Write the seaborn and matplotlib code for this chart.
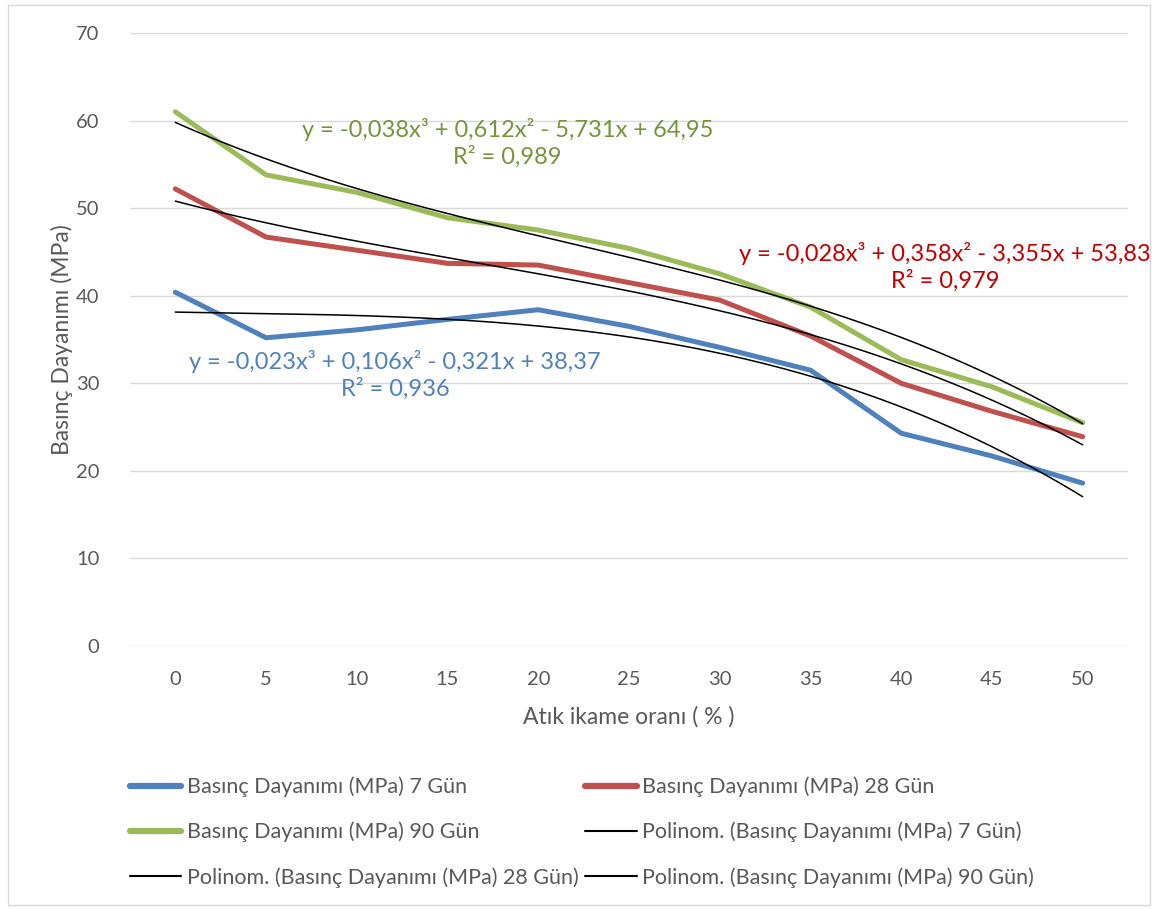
import numpy as np
import pandas as pd
import matplotlib
matplotlib.use("Agg")
import matplotlib.pyplot as plt
from matplotlib.lines import Line2D
from matplotlib.patches import Rectangle
import seaborn as sns

# Replacement ratio categories (%)
ratios = [0, 5, 10, 15, 20, 25, 30, 35, 40, 45, 50]

# Compressive strength (MPa)
gun7 = [40.4, 35.2, 36.1, 37.3, 38.4, 36.5, 34.1, 31.5, 24.3, 21.7, 18.6]
gun28 = [52.2, 46.7, 45.2, 43.7, 43.5, 41.5, 39.5, 35.4, 30.0, 26.8, 23.9]
gun90 = [61.0, 53.8, 51.8, 48.9, 47.5, 45.4, 42.5, 38.7, 32.7, 29.6, 25.5]

# Cubic trendline coefficients (x = category number 1..11), highest power first
poly7 = [-0.023, 0.106, -0.321, 38.37]
poly28 = [-0.028, 0.358, -3.355, 53.83]
poly90 = [-0.038, 0.612, -5.731, 64.95]
r2_7, r2_28, r2_90 = "0,936", "0,979", "0,989"

series_names = ["Basınç Dayanımı (MPa) 7 Gün",
                "Basınç Dayanımı (MPa) 28 Gün",
                "Basınç Dayanımı (MPa) 90 Gün"]
colors = ["#4F81BD", "#C0504D", "#9BBB59"]
text_colors = ["#4F81BD", "#C00000", "#77933C"]

sns.set_theme(style="white")
plt.rcParams["font.family"] = ["Lato", "DejaVu Sans"]

fig = plt.figure(figsize=(11.52, 9.09), dpi=100)
ax = fig.add_axes([0.1128, 0.2893, 0.9792 - 0.1128, 0.9637 - 0.2893])

idx = np.arange(len(ratios))
df = pd.DataFrame({"idx": np.tile(idx, 3),
                   "val": gun7 + gun28 + gun90,
                   "seri": np.repeat(series_names, len(ratios))})
sns.lineplot(data=df, x="idx", y="val", hue="seri", palette=colors,
             linewidth=3.6, ax=ax, legend=False, zorder=3,
             solid_capstyle="round", solid_joinstyle="round")

# Trendlines evaluated on a fine grid of the category number
xs = np.linspace(1, len(ratios), 200)
for coefs in (poly7, poly28, poly90):
    ys = np.polyval(coefs, xs)
    sns.lineplot(x=xs - 1, y=ys, color="black", linewidth=1.1, ax=ax,
                 legend=False, zorder=4, sort=False)


def fmt(v):
    return f"{abs(v):g}".replace(".", ",")


def equation(c):
    a, b, d, e = c
    parts = [f"y = {'-' if a < 0 else ''}{fmt(a)}x³"]
    parts.append(f" {'-' if b < 0 else '+'} {fmt(b)}x²")
    parts.append(f" {'-' if d < 0 else '+'} {fmt(d)}x")
    parts.append(f" {'-' if e < 0 else '+'} {fmt(e)}")
    return "".join(parts)


labels = [(poly90, r2_90, text_colors[2], 3.66, 57.4),
          (poly28, r2_28, text_colors[1], 8.48, 43.3),
          (poly7, r2_7, text_colors[0], 2.42, 31.0)]
for c, r2, col, xp, yp in labels:
    ax.text(xp, yp, equation(c) + "\nR² = " + r2, color=col, fontsize=17,
            ha="center", va="center", linespacing=1.25, zorder=5)

ax.set_xlim(-0.5, len(ratios) - 0.5)
ax.set_ylim(0, 70)
ax.set_yticks(np.arange(0, 71, 10))
ax.set_xticks(idx)
ax.set_xticklabels([str(r) for r in ratios])
ax.grid(axis="y", color="#D9D9D9", linewidth=1.0)
ax.set_axisbelow(True)
for s in ax.spines.values():
    s.set_visible(False)
ax.tick_params(axis="both", colors="#595959", labelsize=14.5, length=0)
ax.tick_params(axis="x", pad=18)
ax.tick_params(axis="y", pad=22)
ax.set_xlabel("Atık ikame oranı ( % )", fontsize=16.5, color="#595959", labelpad=13)
ax.set_ylabel("Basınç Dayanımı (MPa)", fontsize=16.5, color="#595959", labelpad=2)

# Legend (row-major appearance with two columns)
h7 = Line2D([], [], color=colors[0], linewidth=4.5, solid_capstyle="round")
h28 = Line2D([], [], color=colors[1], linewidth=4.5, solid_capstyle="round")
h90 = Line2D([], [], color=colors[2], linewidth=4.5, solid_capstyle="round")
hp = [Line2D([], [], color="black", linewidth=1.5) for _ in range(3)]
handles = [h7, h90, hp[1], h28, hp[0], hp[2]]
names = [series_names[0], series_names[2],
         "Polinom. (" + series_names[1] + ")",
         series_names[1],
         "Polinom. (" + series_names[0] + ")",
         "Polinom. (" + series_names[2] + ")"]
leg = fig.legend(handles, names, ncol=2, loc="center",
                 bbox_to_anchor=(0.505, 0.0845), frameon=False,
                 fontsize=15.5, handlelength=2.4, handletextpad=0.25,
                 columnspacing=0.3, labelspacing=1.15)
for t in leg.get_texts():
    t.set_color("#595959")

fig.patches.append(Rectangle((0.007, 0.004), 0.991, 0.991, transform=fig.transFigure,
                             fill=False, edgecolor="#D9D9D9", linewidth=1.0))

fig.savefig("out.png", dpi=100)
